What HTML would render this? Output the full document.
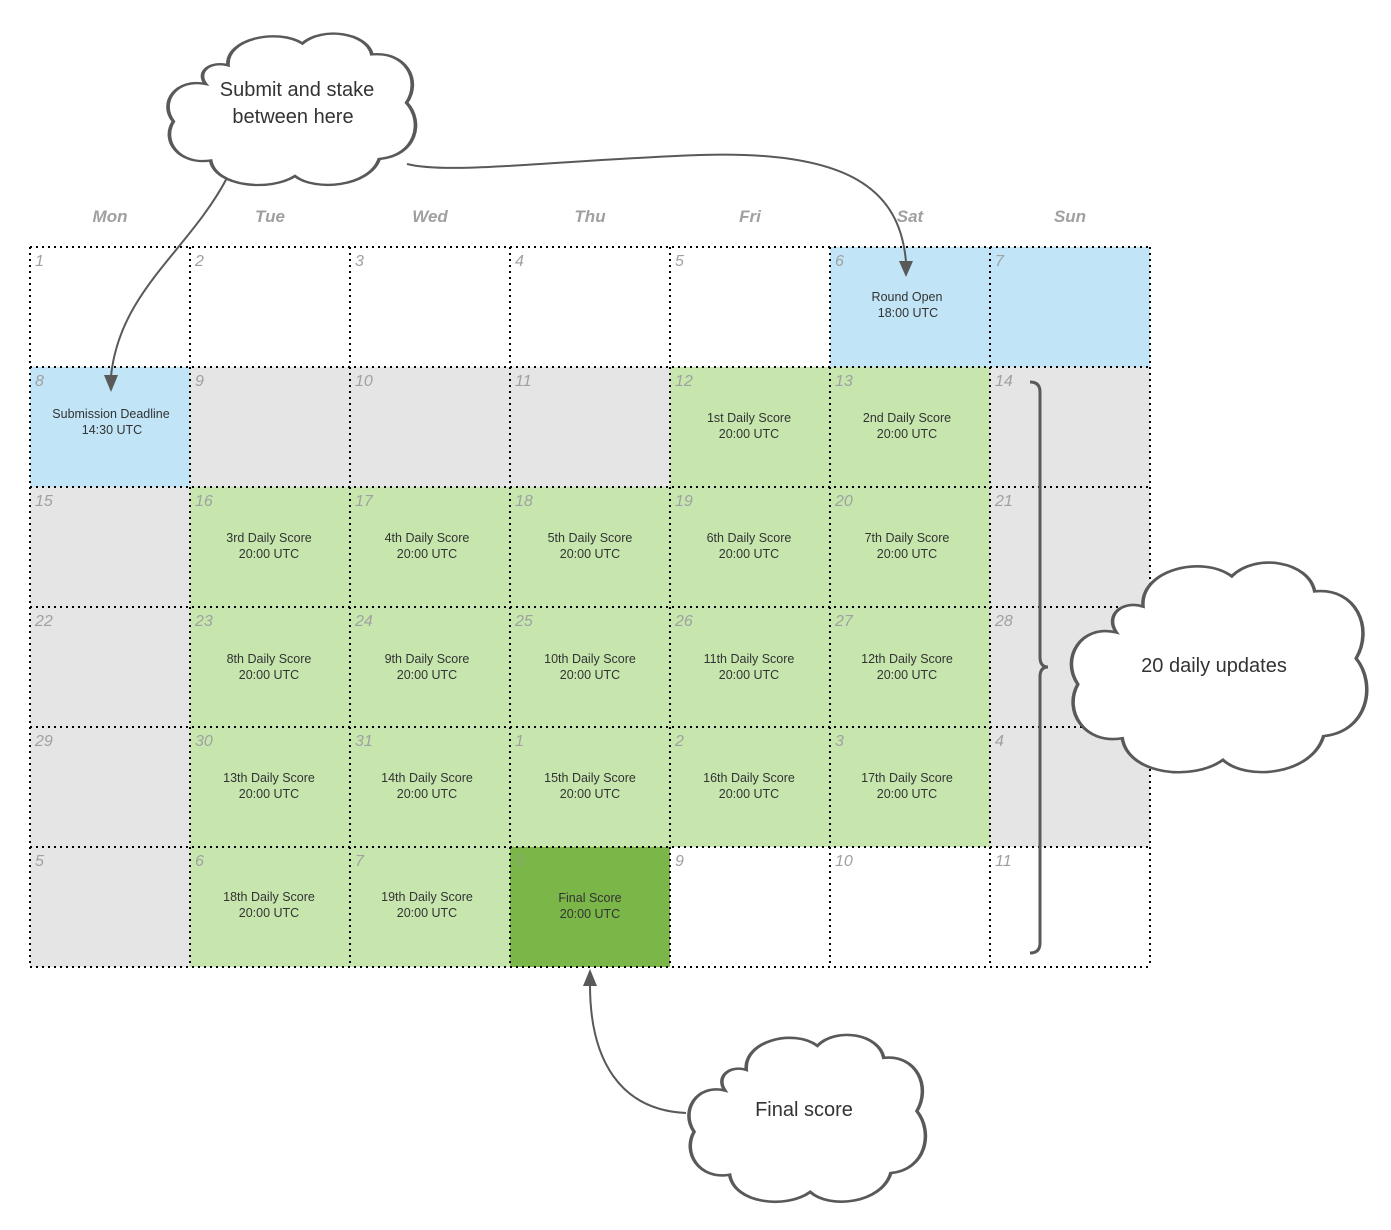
<!DOCTYPE html>
<html><head><meta charset="utf-8"><style>
html,body{margin:0;padding:0;background:#fff;}
svg{display:block;font-family:"Liberation Sans",sans-serif;}
.dn{font-size:16px;font-style:italic;fill:#a0a0a0;}
.hd{font-size:17px;font-style:italic;font-weight:bold;fill:#a0a0a0;}
.ct{font-size:12.5px;fill:#333;text-anchor:middle;}
.cl{font-size:20px;fill:#333;text-anchor:middle;}
</style></head><body>
<svg width="1391" height="1230" viewBox="0 0 1391 1230" xmlns="http://www.w3.org/2000/svg">
<defs>
<path id="cloud" d="M25,22 C24,5 45,-2 55,8 C63,-3 81,1 83,15 C97,13 103,32 97,46 C104,58 101,80 86,82 C82,100 60,103 52,93 C42,103 20,100 18,83 C5,86 -2,70 3,58 C-3,46 4,30 16,34 C12,26 18,19 25,22 Z"/>
</defs>
<g class="hd" text-anchor="middle">
<text x="110" y="222">Mon</text><text x="270" y="222">Tue</text><text x="430" y="222">Wed</text><text x="590" y="222">Thu</text><text x="750" y="222">Fri</text><text x="910" y="222">Sat</text><text x="1070" y="222">Sun</text>
</g>
<g>
<rect x="830" y="247" width="320" height="120" fill="#c1e4f7"/>
<rect x="30" y="367" width="160" height="120" fill="#c1e4f7"/>
<rect x="190" y="367" width="480" height="120" fill="#e5e5e5"/>
<rect x="670" y="367" width="320" height="120" fill="#c7e6ae"/>
<rect x="990" y="367" width="160" height="480" fill="#e5e5e5"/>
<rect x="30" y="487" width="160" height="480" fill="#e5e5e5"/>
<rect x="190" y="487" width="800" height="360" fill="#c7e6ae"/>
<rect x="190" y="847" width="320" height="120" fill="#c7e6ae"/>
<rect x="510" y="847" width="160" height="120" fill="#7ab648"/>
</g>
<g stroke="#000" stroke-width="2" stroke-dasharray="2,4" fill="none">
<path d="M30,247H1150M30,367H1150M30,487H1150M30,607H1150M30,727H1150M30,847H1150M30,967H1150"/>
<path d="M30,247V967M190,247V967M350,247V967M510,247V967M670,247V967M830,247V967M990,247V967M1150,247V967"/>
</g>
<g class="dn">
<text x="35" y="266">1</text><text x="195" y="266">2</text><text x="355" y="266">3</text><text x="515" y="266">4</text><text x="675" y="266">5</text><text x="835" y="266">6</text><text x="995" y="266">7</text>
<text x="35" y="386">8</text><text x="195" y="386">9</text><text x="355" y="386">10</text><text x="515" y="386">11</text><text x="675" y="386">12</text><text x="835" y="386">13</text><text x="995" y="386">14</text>
<text x="35" y="506">15</text><text x="195" y="506">16</text><text x="355" y="506">17</text><text x="515" y="506">18</text><text x="675" y="506">19</text><text x="835" y="506">20</text><text x="995" y="506">21</text>
<text x="35" y="626">22</text><text x="195" y="626">23</text><text x="355" y="626">24</text><text x="515" y="626">25</text><text x="675" y="626">26</text><text x="835" y="626">27</text><text x="995" y="626">28</text>
<text x="35" y="746">29</text><text x="195" y="746">30</text><text x="355" y="746">31</text><text x="515" y="746">1</text><text x="675" y="746">2</text><text x="835" y="746">3</text><text x="995" y="746">4</text>
<text x="35" y="866">5</text><text x="195" y="866">6</text><text x="355" y="866">7</text><text x="515" y="866" fill="#8aa86e">8</text><text x="675" y="866">9</text><text x="835" y="866">10</text><text x="995" y="866">11</text>
</g>
<g class="ct">
<text x="907" y="301">Round Open</text><text x="908" y="317">18:00 UTC</text>
<text x="111" y="418">Submission Deadline</text><text x="112" y="434">14:30 UTC</text>
<text x="749" y="422">1st Daily Score</text><text x="749" y="438">20:00 UTC</text>
<text x="907" y="422">2nd Daily Score</text><text x="907" y="438">20:00 UTC</text>
<text x="269" y="542">3rd Daily Score</text><text x="269" y="558">20:00 UTC</text>
<text x="427" y="542">4th Daily Score</text><text x="427" y="558">20:00 UTC</text>
<text x="590" y="542">5th Daily Score</text><text x="590" y="558">20:00 UTC</text>
<text x="749" y="542">6th Daily Score</text><text x="749" y="558">20:00 UTC</text>
<text x="907" y="542">7th Daily Score</text><text x="907" y="558">20:00 UTC</text>
<text x="269" y="663">8th Daily Score</text><text x="269" y="679">20:00 UTC</text>
<text x="427" y="663">9th Daily Score</text><text x="427" y="679">20:00 UTC</text>
<text x="590" y="663">10th Daily Score</text><text x="590" y="679">20:00 UTC</text>
<text x="749" y="663">11th Daily Score</text><text x="749" y="679">20:00 UTC</text>
<text x="907" y="663">12th Daily Score</text><text x="907" y="679">20:00 UTC</text>
<text x="269" y="782">13th Daily Score</text><text x="269" y="798">20:00 UTC</text>
<text x="427" y="782">14th Daily Score</text><text x="427" y="798">20:00 UTC</text>
<text x="590" y="782">15th Daily Score</text><text x="590" y="798">20:00 UTC</text>
<text x="749" y="782">16th Daily Score</text><text x="749" y="798">20:00 UTC</text>
<text x="907" y="782">17th Daily Score</text><text x="907" y="798">20:00 UTC</text>
<text x="269" y="901">18th Daily Score</text><text x="269" y="917">20:00 UTC</text>
<text x="427" y="901">19th Daily Score</text><text x="427" y="917">20:00 UTC</text>
<text x="590" y="902">Final Score</text><text x="590" y="918">20:00 UTC</text>
</g>
<path d="M1030,382 Q1040,382 1040,392 L1040,657 Q1040,667 1048,667 Q1040,667 1040,677 L1040,943 Q1040,953 1030,953" fill="none" stroke="#595959" stroke-width="3"/>
<g fill="none" stroke="#595959" stroke-width="2">
<path d="M228,176 C190,250 120,290 111,376"/>
<path d="M407,164 C450,175 560,160 700,155 C850,150 900,190 906,262"/>
<path d="M686,1113 C620,1110 590,1060 590,985"/>
</g>
<g fill="#595959">
<polygon points="104,375 118,375 111,392"/>
<polygon points="899,261 913,261 906,277"/>
<polygon points="583,986 597,986 590,969"/>
</g>
<g fill="#fff" stroke="#595959" stroke-width="3">
<use href="#cloud" transform="translate(166,31) scale(2.48,1.56)" style="stroke-width:1.5px"/>
<use href="#cloud" transform="translate(1069,559) scale(2.96,2.16)" style="stroke-width:1.2px"/>
<use href="#cloud" transform="translate(687,1032) scale(2.37,1.72)" style="stroke-width:1.5px"/>
</g>
<g class="cl">
<text x="297" y="96">Submit and stake</text><text x="293" y="123">between here</text>
<text x="1214" y="672">20 daily updates</text>
<text x="804" y="1116">Final score</text>
</g>
</svg>
</body></html>
